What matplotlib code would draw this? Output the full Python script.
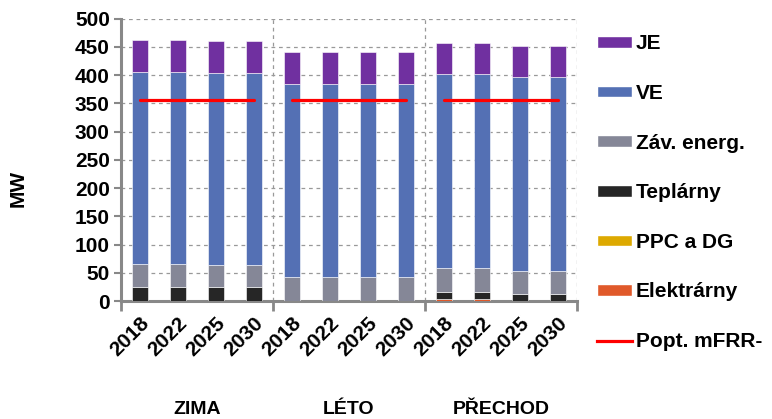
import numpy as np
import matplotlib
matplotlib.use("Agg")
import matplotlib.pyplot as plt
from matplotlib.patches import Patch
from matplotlib.lines import Line2D
import matplotlib.transforms as mtransforms

plt.rcParams['font.family'] = ['Liberation Sans', 'DejaVu Sans']
plt.rcParams['font.weight'] = 'bold'

# Categories: three seasons, four years each
seasons = ["ZIMA", "LÉTO", "PŘECHOD"]
years = ["2018", "2022", "2025", "2030"]

# Reserve contributions in MW (bottom to top of stack)
elektrarny = [0, 0, 0, 0,   0, 0, 0, 0,   3, 3, 0, 0]
ppc_dg     = [0, 0, 0, 0,   0, 0, 0, 0,   0, 0, 0, 0]
teplarny   = [25, 25, 25, 25,   0, 0, 0, 0,   13.5, 13.5, 12, 12]
zav_energ  = [40, 40, 38, 38,   43, 42, 42, 42,   41.5, 41.5, 41, 41]
ve         = [341, 341, 341, 341,   341, 342, 342, 342,   344, 344, 343, 343]
je         = [56, 56, 56, 56,   56, 56, 56, 56,   55, 55, 55, 55]
popt_mfrr  = [355, 355, 355, 355,   355, 355, 355, 355,   355, 355, 355, 355]

series = [
    ("Elektrárny", elektrarny, "#E0592A"),
    ("PPC a DG", ppc_dg, "#DDA900"),
    ("Teplárny", teplarny, "#262626"),
    ("Záv. energ.", zav_energ, "#858797"),
    ("VE", ve, "#5470B4"),
    ("JE", je, "#7030A0"),
]

FS = 15

fig = plt.figure(figsize=(7.72, 4.19), dpi=100)
ax = fig.add_axes([0.1567, 0.2816, 0.7474 - 0.1567, 0.9558 - 0.2816])

n = len(seasons) * len(years)
x = np.arange(n)
bottom = np.zeros(n)
handles = {}
for name, vals, color in series:
    vals = np.array(vals, dtype=float)
    ax.bar(x, vals, width=0.41, bottom=bottom, color=color,
           edgecolor="white", linewidth=0.4, zorder=3)
    bottom += vals
    handles[name] = Patch(facecolor=color, edgecolor="white")

# demand line drawn separately for each season
for g in range(len(seasons)):
    sl = slice(g * len(years), (g + 1) * len(years))
    ax.plot(x[sl], popt_mfrr[sl], color="#FF0000", lw=2.3, zorder=4,
            solid_capstyle="round")

ax.set_xlim(-0.5, n - 0.5)
ax.set_ylim(0, 500)
ax.set_yticks(np.arange(0, 501, 50))
ax.tick_params(axis="y", labelsize=FS, length=5, width=1.5, color="#888888",
               direction="out", pad=3)

ax.set_xticks(x)
ax.set_xticklabels(years * len(seasons), rotation=45, ha="right",
                   rotation_mode="anchor", fontsize=FS)
ax.tick_params(axis="x", which="major", length=0, pad=9)
ax.set_xticks(np.arange(-0.5, n, len(years)), minor=True)
ax.tick_params(axis="x", which="minor", length=7, width=2, color="#888888")

# grid
ax.yaxis.grid(True, linestyle=(0, (3, 3)), color="#999999", lw=0.9, zorder=0)
for xv in np.arange(len(years) - 0.5, n, len(years)):
    ax.axvline(xv, linestyle=(0, (3, 3)), color="#999999", lw=0.9, zorder=0)

for side in ["top", "right"]:
    ax.spines[side].set_visible(False)
for side in ["left", "bottom"]:
    ax.spines[side].set_color("#888888")
    ax.spines[side].set_linewidth(2.2)

ax.set_ylabel("MW", fontsize=FS, fontweight="bold")
ax.yaxis.set_label_coords(-0.204, 0.40)

trans = mtransforms.blended_transform_factory(ax.transData, ax.transAxes)
for g, s in enumerate(seasons):
    ax.text(g * len(years) + (len(years) - 1) / 2, -0.385, s, transform=trans,
            ha="center", va="center", fontsize=14, fontweight="bold")

leg_handles = [handles["JE"], handles["VE"], handles["Záv. energ."],
               handles["Teplárny"], handles["PPC a DG"], handles["Elektrárny"],
               Line2D([0], [0], color="#FF0000", lw=2.3)]
leg_labels = ["JE", "VE", "Záv. energ.", "Teplárny", "PPC a DG", "Elektrárny",
              "Popt. mFRR-"]
leg = fig.legend(leg_handles, leg_labels, loc="upper left",
                 bbox_to_anchor=(0.773, 0.918), frameon=False, fontsize=FS,
                 labelspacing=1.47, handlelength=1.68, handleheight=0.48,
                 handletextpad=0.2, borderaxespad=0, borderpad=0)
for t in leg.get_texts():
    t.set_fontweight("bold")

fig.savefig("out.png", dpi=100)
